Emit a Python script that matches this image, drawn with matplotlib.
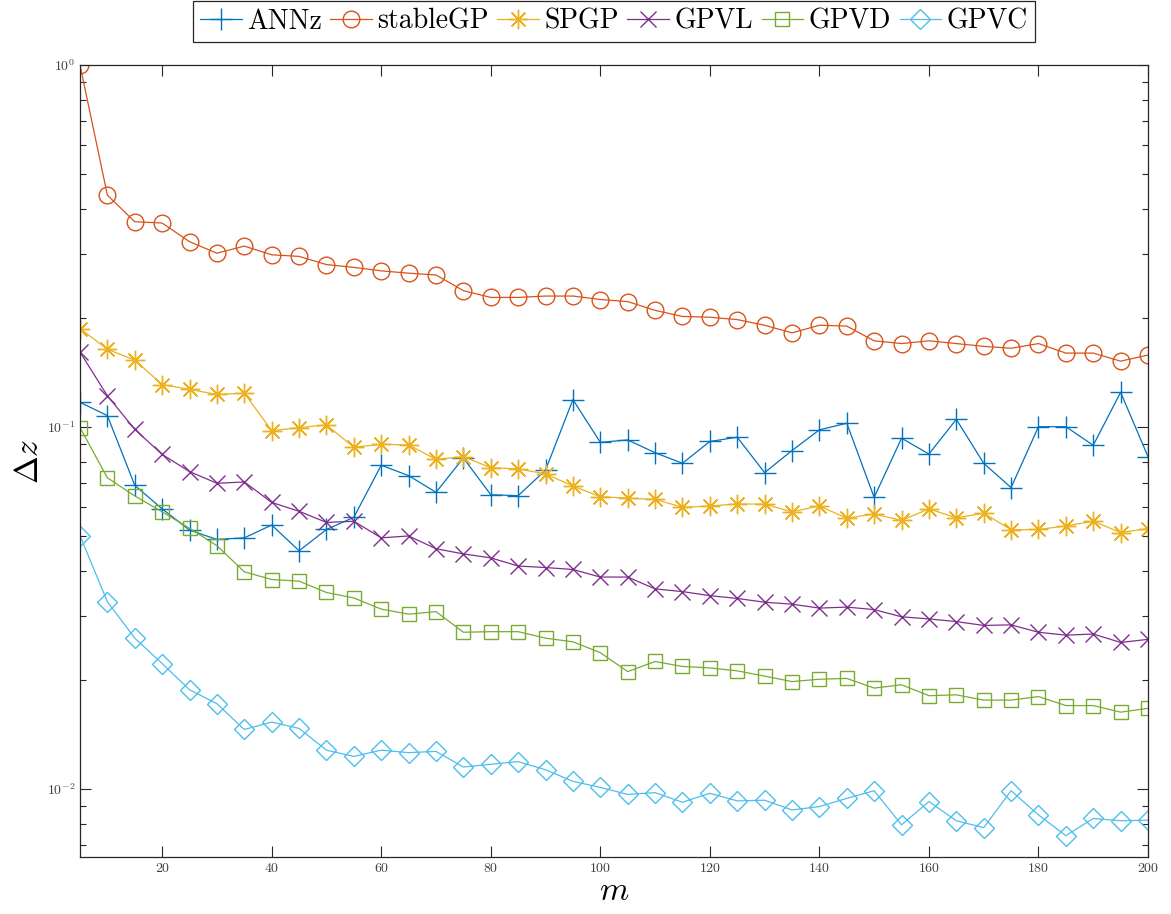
import numpy as np
import matplotlib
matplotlib.use("Agg")
import matplotlib.pyplot as plt
from matplotlib.ticker import LogLocator, NullFormatter, FixedLocator

plt.rcParams['font.family'] = 'serif'
plt.rcParams['font.serif'] = ['cmr10']
plt.rcParams['mathtext.fontset'] = 'cm'
plt.rcParams['axes.formatter.use_mathtext'] = True
plt.rcParams['axes.unicode_minus'] = False

# basis functions m
m = list(range(5, 205, 5))

annz = [0.117, 0.1075, 0.0690, 0.0594, 0.0519, 0.0489, 0.0494, 0.0536, 0.0455, 0.0521,
        0.0563, 0.0784, 0.0734, 0.0660, 0.0821, 0.0650, 0.0646, 0.0760, 0.119, 0.0907,
        0.0921, 0.0849, 0.0794, 0.0912, 0.0937, 0.0748, 0.0861, 0.0982, 0.1024, 0.0639,
        0.0931, 0.0842, 0.105, 0.0794, 0.0680, 0.1002, 0.1002, 0.0890, 0.1247, 0.0828]
stablegp = [1.0, 0.437, 0.369, 0.366, 0.325, 0.302, 0.316, 0.299, 0.296, 0.281,
            0.276, 0.270, 0.266, 0.263, 0.238, 0.228, 0.228, 0.230, 0.230, 0.225,
            0.222, 0.210, 0.202, 0.201, 0.198, 0.191, 0.182, 0.191, 0.190, 0.173,
            0.170, 0.173, 0.170, 0.167, 0.165, 0.170, 0.160, 0.160, 0.152, 0.158]
spgp = [0.187, 0.164, 0.153, 0.131, 0.127, 0.123, 0.124, 0.0977, 0.0996, 0.1013,
        0.0879, 0.0896, 0.0892, 0.0814, 0.0828, 0.0772, 0.0766, 0.0742, 0.0687, 0.0642,
        0.0636, 0.0631, 0.0600, 0.0605, 0.0613, 0.0612, 0.0583, 0.0605, 0.0560, 0.0575,
        0.0552, 0.0594, 0.0561, 0.0578, 0.0520, 0.0521, 0.0533, 0.0549, 0.0511, 0.0524]
gpvl = [0.161, 0.122, 0.0985, 0.0840, 0.0753, 0.0699, 0.0705, 0.0619, 0.0585, 0.0545,
        0.0549, 0.0494, 0.0500, 0.0461, 0.0446, 0.0435, 0.0413, 0.0409, 0.0404, 0.0385,
        0.0385, 0.0357, 0.0351, 0.0342, 0.0336, 0.0328, 0.0324, 0.0316, 0.0318, 0.0313,
        0.0299, 0.0295, 0.0290, 0.0283, 0.0284, 0.0271, 0.0266, 0.0268, 0.0254, 0.0259]
gpvd = [0.0996, 0.0724, 0.0645, 0.0583, 0.0525, 0.0470, 0.0398, 0.0379, 0.0375, 0.0349,
        0.0337, 0.0314, 0.0304, 0.0309, 0.0271, 0.0272, 0.0272, 0.0261, 0.0255, 0.0238,
        0.0211, 0.0225, 0.0218, 0.0216, 0.0212, 0.0205, 0.0198, 0.0201, 0.0202, 0.0190,
        0.0194, 0.0181, 0.0182, 0.0176, 0.0176, 0.0180, 0.0170, 0.0170, 0.0163, 0.0167]
gpvc = [0.0501, 0.0329, 0.0261, 0.0222, 0.0188, 0.0172, 0.0146, 0.0153, 0.0147, 0.0128,
        0.0123, 0.0128, 0.0126, 0.0127, 0.0115, 0.0117, 0.0119, 0.0113, 0.0105, 0.0101,
        0.00966, 0.00977, 0.00919, 0.00973, 0.00927, 0.00931, 0.00875, 0.00894, 0.00942, 0.00989,
        0.00796, 0.00923, 0.00817, 0.00782, 0.00989, 0.00848, 0.00743, 0.00829, 0.00817, 0.00820]

labels = ['ANNz', 'stableGP', 'SPGP', 'GPVL', 'GPVD', 'GPVC']
series = [annz, stablegp, spgp, gpvl, gpvd, gpvc]
# matlab default colours
colors = ['#0072BD', '#D95319', '#EDB120', '#7E2F8E', '#77AC30', '#4DBEEE']
markers = ['+', 'o', (8, 2, 0), 'x', 's', 'D']
msizes = [16, 12, 14, 11, 10, 10]

fig = plt.figure(figsize=(11.71, 9.14), dpi=100)
ax = fig.add_axes([80/1171, 1 - 856.7/914, (1148 - 80)/1171, (856.7 - 65)/914])

for y, lab, c, mk, ms in zip(series, labels, colors, markers, msizes):
    ax.plot(m, y, color=c, marker=mk, markersize=ms, markerfacecolor='none',
            markeredgecolor=c, markeredgewidth=1.0, linewidth=0.9, label=lab)

ax.set_yscale('log')
ax.set_xlim(5, 200)
ax.set_ylim(0.0065, 1.0)
ax.xaxis.set_major_locator(FixedLocator([20, 40, 60, 80, 100, 120, 140, 160, 180, 200]))
ax.yaxis.set_major_locator(LogLocator(base=10))
ax.yaxis.set_minor_locator(LogLocator(base=10, subs=np.arange(2, 10)))
ax.yaxis.set_minor_formatter(NullFormatter())

ax.tick_params(which='both', direction='in', top=True, right=True, colors='#262626',
               labelsize=10, labelcolor='#404040')
ax.tick_params(which='major', length=8, width=0.8)
ax.tick_params(which='minor', length=4.5, width=0.8)
for s in ax.spines.values():
    s.set_color('#262626')
    s.set_linewidth(0.9)

ax.set_xlabel(r'$m$', fontsize=24, labelpad=2)
ax.set_ylabel(r'$\Delta z$', fontsize=24, labelpad=2)

leg = ax.legend(loc='lower center', bbox_to_anchor=(0.5, 1.012), ncol=6, fontsize=20,
                handlelength=1.5, handletextpad=0.2, columnspacing=0.3, borderpad=0.25,
                fancybox=False, edgecolor='#262626', framealpha=1)
leg.get_frame().set_linewidth(0.9)

fig.savefig('out.png', dpi=100)
